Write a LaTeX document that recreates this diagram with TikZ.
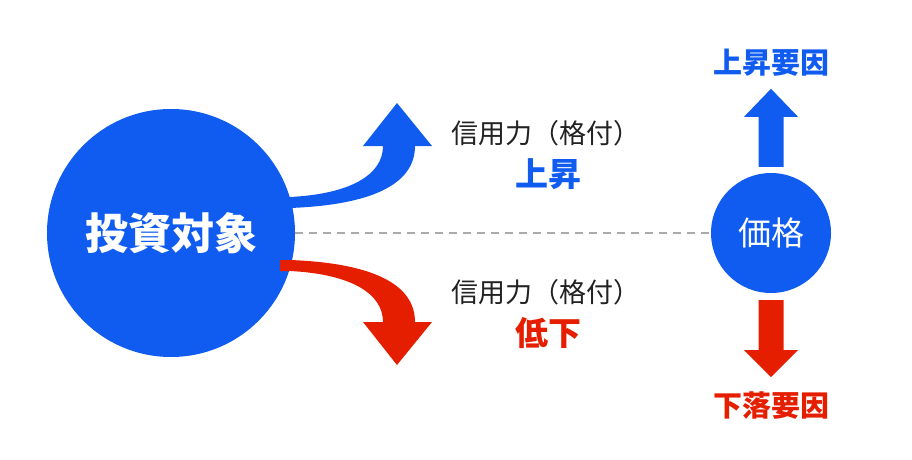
\documentclass[tikz,border=0pt]{standalone}
\usepackage{fontspec}
\setmainfont{Noto Sans CJK JP}
\usetikzlibrary{calc}
\definecolor{mblue}{RGB}{16,92,240}
\definecolor{mred}{RGB}{230,30,0}
\definecolor{mgray}{RGB}{170,170,170}
\definecolor{mtext}{RGB}{34,34,34}
\tikzset{
  bigcirc/.style={circle, fill=mblue, inner sep=0pt, minimum size=#1},
  lbl/.style={inner sep=0pt, text=mtext, font=\fontsize{27}{30}\selectfont},
  bluelbl/.style={inner sep=0pt, text=mblue, font=\bfseries\fontsize{#1}{#1}\selectfont},
  redlbl/.style={inner sep=0pt, text=mred, font=\bfseries\fontsize{#1}{#1}\selectfont},
  dashline/.style={draw=mgray, line width=2pt, dash pattern=on 8pt off 6pt},
}
\begin{document}
\begin{tikzpicture}[x=1pt,y=-1pt]
\useasboundingbox (0,0) rectangle (912,460);
% circles
\node[bigcirc=248pt, text=white, font=\bfseries\fontsize{43}{43}\selectfont] (inv) at (171,233) {投資対象};
\node[bigcirc=120pt, text=white, font=\fontsize{33}{33}\selectfont] (price) at (771,233) {価格};
% dashed line
\draw[dashline] (inv.east) -- (price.west);
% curved blue arrow
\fill[mblue] (280,197) -- (290,197) .. controls (350,194) and (383,175) .. (383,146)
  -- (363,146) -- (397,103) -- (432,146) -- (415,146)
  .. controls (415,185) and (370,205) .. (290,208) -- (280,208) -- cycle;
% curved red arrow
\fill[mred] (280,271) -- (290,271) .. controls (350,274) and (383,293) .. (383,322)
  -- (363,322) -- (397,365) -- (432,322) -- (415,322)
  .. controls (415,283) and (370,263) .. (290,260) -- (280,260) -- cycle;
% straight arrows
\fill[mblue] ($(price.north)+(-12.5,-6)$) -- ++(0,-50) -- ++(-14.5,0) -- ($(price.north)+(0,-84)$)
  -- ($(price.north)+(27,-56)$) -- ++(-14.5,0) -- ++(0,50) -- cycle;
\fill[mred] ($(price.south)+(-12.5,7)$) -- ++(0,50) -- ++(-14.5,0) -- ($(price.south)+(0,84)$)
  -- ($(price.south)+(27,57)$) -- ++(-14.5,0) -- ++(0,-50) -- cycle;
% labels
\node[lbl] (c1) at (546,133) {信用力（格付）};
\node[bluelbl=33pt] (up) at (548,174) {上昇};
\node[lbl] (c2) at (546,292) {信用力（格付）};
\node[redlbl=33pt] (down) at (548,333) {低下};
\node[bluelbl=29pt] (upf) at (771,63) {上昇要因};
\node[redlbl=29pt] (downf) at (771,406) {下落要因};
\end{tikzpicture}
\end{document}
